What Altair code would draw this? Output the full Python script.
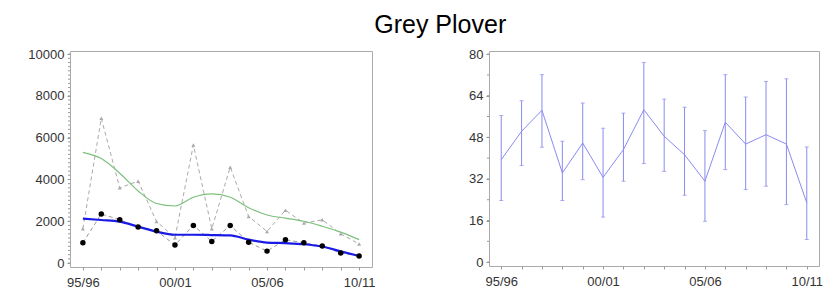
import altair as alt
import pandas as pd

seasons = ["95/96", "96/97", "97/98", "98/99", "99/00", "00/01", "01/02", "02/03",
           "03/04", "04/05", "05/06", "06/07", "07/08", "08/09", "09/10", "10/11"]
shown_labels = ["95/96", "00/01", "05/06", "10/11"]

# left panel
counts = [970, 2350, 2070, 1720, 1545, 860, 1800, 1035, 1800, 1000, 570, 1115, 970, 810, 480, 335]
peaks = [1640, 6930, 3600, 3920, 1990, 1210, 5650, 1640, 4590, 2230, 1510, 2530, 1910, 2070, 1400, 910]
peak_trend = [5300, 5000, 4300, 3450, 2850, 2730, 3150, 3310, 3150, 2650, 2300, 2150, 2000, 1760, 1480, 1120]
count_trend = [2130, 2060, 1980, 1740, 1500, 1355, 1355, 1340, 1320, 1120, 980, 950, 900, 790, 560, 335]

# right panel
means = [39.4, 50.3, 58.4, 34.3, 45.8, 32.6, 43.3, 58.6, 48.4, 41.3, 31.1, 53.8, 45.4, 49.0, 45.4, 22.8]
upper = [56.4, 62.1, 72.1, 46.5, 61.2, 51.5, 57.3, 76.8, 62.7, 59.6, 50.6, 72.1, 63.5, 69.5, 70.5, 44.3]
lower = [23.7, 37.2, 44.2, 23.7, 31.7, 17.3, 31.1, 37.9, 34.9, 25.7, 15.7, 35.6, 27.9, 29.2, 22.1, 8.7]

left_minor = list(range(0, 10001, 200))
left_labels = list(range(0, 10001, 2000))
right_minor = list(range(0, 81, 8))
right_labels = list(range(0, 81, 16))

dfL = pd.DataFrame({"season": seasons, "count": counts, "peak": peaks,
                    "peak_trend": peak_trend, "count_trend": count_trend})
dfR = pd.DataFrame({"season": seasons, "mean": means, "upper": upper, "lower": lower})

FONT = "Liberation Sans"
lab_arr = "[" + ",".join("'%s'" % s for s in shown_labels) + "]"
x_label_expr = "indexof(%s, datum.value) >= 0 ? datum.label : ''" % lab_arr
TICK = "#999999"


def xenc(pad):
    return alt.X("season:O", sort=seasons, title=None,
                 scale=alt.Scale(type="point", padding=pad),
                 axis=alt.Axis(labelExpr=x_label_expr, labelAngle=0, tickSize=3,
                               domain=False, labelPadding=6, tickColor=TICK,
                               labelOverlap=False))


def yaxis(labels):
    return alt.Axis(values=labels, tickSize=3, domain=False, grid=False, labelPadding=3,
                    tickColor=TICK, labelOverlap=False, labelFlush=False, format="d")


def minor_ticks(values, field, scale):
    return alt.Chart(pd.DataFrame({field: values})).mark_rule(
        color=TICK, strokeWidth=1).encode(
        x=alt.value(-2), x2=alt.value(0), y=alt.Y(field + ":Q", scale=scale))


xL = xenc(0.7)
yL = alt.Scale(domain=[-190, 10150], nice=False, zero=False)
baseL = alt.Chart(dfL)

peak_line = baseL.mark_line(color="#aaaaaa", strokeWidth=1, strokeDash=[4, 3]).encode(
    x=xL, y=alt.Y("peak:Q", scale=yL, axis=yaxis(left_labels), title=None))
peak_pts = baseL.mark_point(shape="triangle-up", filled=True, color="#aaaaaa", size=16, opacity=1).encode(
    x=xL, y=alt.Y("peak:Q", scale=yL))
count_line = baseL.mark_line(color="#999999", strokeWidth=1, strokeDash=[4, 3]).encode(
    x=xL, y=alt.Y("count:Q", scale=yL))
peak_tr = baseL.mark_line(color="#7cc07c", strokeWidth=1.2, interpolate="monotone").encode(
    x=xL, y=alt.Y("peak_trend:Q", scale=yL))
count_tr = baseL.mark_line(color="#1a1ae6", strokeWidth=2.2, interpolate="monotone").encode(
    x=xL, y=alt.Y("count_trend:Q", scale=yL))
count_pts = baseL.mark_circle(color="black", size=30, opacity=1).encode(
    x=xL, y=alt.Y("count:Q", scale=yL))

left = alt.layer(peak_line, count_line, peak_tr, peak_pts, count_tr, count_pts,
                 minor_ticks(left_minor, "tick", yL)).properties(width=302, height=216)

xR = xenc(0.6)
yR = alt.Scale(domain=[-1.5, 81.2], nice=False, zero=False)
baseR = alt.Chart(dfR)
BLUE = "#8a8af0"
bars = baseR.mark_rule(color=BLUE, strokeWidth=1).encode(
    x=xR, y=alt.Y("lower:Q", scale=yR, axis=yaxis(right_labels), title=None),
    y2="upper:Q")
cap_hi = baseR.mark_tick(color=BLUE, orient="horizontal", size=4, thickness=1).encode(
    x=xR, y=alt.Y("upper:Q", scale=yR))
cap_lo = baseR.mark_tick(color=BLUE, orient="horizontal", size=4, thickness=1).encode(
    x=xR, y=alt.Y("lower:Q", scale=yR))
mean_line = baseR.mark_line(color=BLUE, strokeWidth=1).encode(
    x=xR, y=alt.Y("mean:Q", scale=yR))
right = alt.layer(bars, cap_hi, cap_lo, mean_line,
                  minor_ticks(right_minor, "tick", yR)).properties(width=330, height=215)

chart = alt.hconcat(left, right, spacing=92).properties(
    title=alt.TitleParams("Grey Plover", fontSize=25, font=FONT, fontWeight="normal",
                          color="black", anchor="middle", offset=10, dx=15),
    padding={"left": 19, "top": 4, "right": 5, "bottom": 5},
).configure_view(stroke="#aaaaaa", strokeWidth=1).configure_axis(
    labelFont=FONT, labelFontSize=13, labelColor="#333333"
)

chart.save("out.html", embed_options={"renderer": "svg", "actions": False})
